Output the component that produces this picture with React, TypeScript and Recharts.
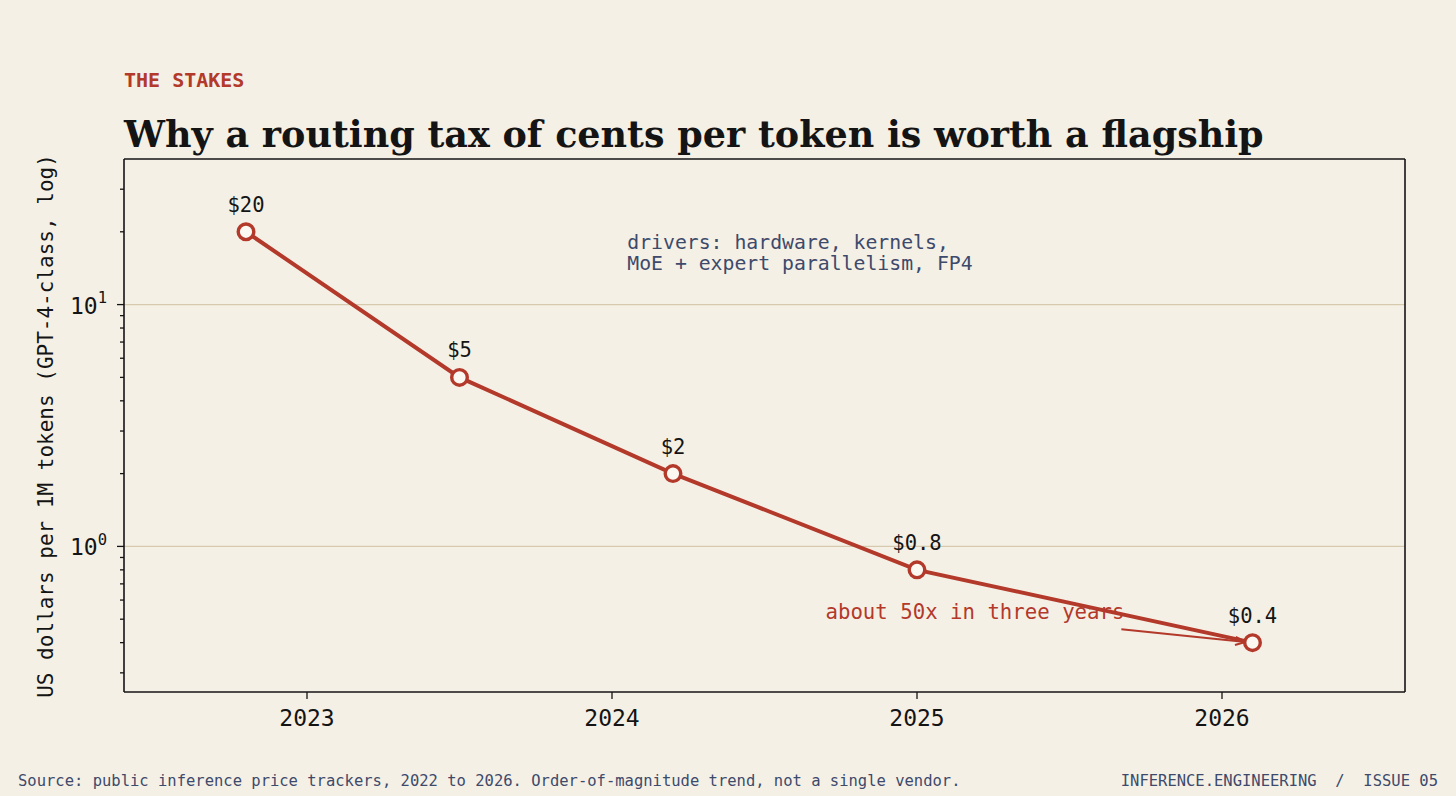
import React from 'react';
import { LineChart, Line, XAxis, YAxis, ReferenceLine, ReferenceDot } from 'recharts';

// Price of GPT-4-class inference, US dollars per 1M tokens
const years = [2022.8, 2023.5, 2024.2, 2025.0, 2026.1];
const prices = [20, 5, 2, 0.8, 0.4];

const xTicks = [2023, 2024, 2025, 2026];
const yMajorTicks = [1, 10];
const yMinorTicks = [0.3, 0.4, 0.5, 0.6, 0.7, 0.8, 0.9, 2, 3, 4, 5, 6, 7, 8, 9, 20, 30];
const xDomain = [2022.4, 2026.6];
const yDomain = [0.25, 40];

const driversNote = ['drivers: hardware, kernels,', 'MoE + expert parallelism, FP4'];
const driversAt = { x: 2024.05, y: 17 };
const dropNote = 'about 50x in three years';
const dropAt = { x: 2024.7, y: 0.5 };
const arrowFrom = { x: 2025.67, y: 0.454 };

const data = years.map((year, i) => ({ year, price: prices[i] }));
const allYTicks = [...yMinorTicks, ...yMajorTicks].sort((a, b) => a - b);

const BG = '#f5f0e6';
const RED = '#b3392a';
const INK = '#141414';
const SLATE = '#3d4a6b';
const GRID = '#d6c9ae';
const MONO = '"DejaVu Sans Mono", monospace';
const SERIF = '"DejaVu Serif", serif';

const YTick = (props: any) => {
  const { x, y, payload } = props;
  const major = yMajorTicks.includes(payload.value);
  const len = major ? 7 : 4;
  return (
    <g>
      <line x1={x - len} x2={x} y1={y} y2={y} stroke={INK} strokeWidth={1.3} />
      {major && (
        <text x={x - 17} y={y + 9} textAnchor="end" fontFamily={MONO} fontSize={23} fill={INK}>
          10
          <tspan dy={-10.5} fontSize={15.5}>
            {Math.round(Math.log10(payload.value))}
          </tspan>
        </text>
      )}
    </g>
  );
};

const PriceDot = (props: any) => {
  const { cx, cy, payload, index } = props;
  return (
    <g key={`dot-${index}`}>
      <circle cx={cx} cy={cy} r={7.8} fill="#fbf8f2" stroke={RED} strokeWidth={3.4} />
      <text x={cx} y={cy - 20} textAnchor="middle" fontFamily={MONO} fontSize={20.5} fill={INK}>
        {`$${payload.price}`}
      </text>
    </g>
  );
};

const ArrowShape = (props: any) => {
  const { x1, y1, x2, y2 } = props;
  const dx = x2 - x1;
  const dy = y2 - y1;
  const len = Math.sqrt(dx * dx + dy * dy);
  const ux = dx / len;
  const uy = dy / len;
  // stop short of the marker
  const tx = x2 - ux * 7;
  const ty = y2 - uy * 7;
  const head = 11;
  const spread = 0.38;
  const ang = Math.atan2(uy, ux);
  const hx1 = tx - head * Math.cos(ang - spread);
  const hy1 = ty - head * Math.sin(ang - spread);
  const hx2 = tx - head * Math.cos(ang + spread);
  const hy2 = ty - head * Math.sin(ang + spread);
  return (
    <g>
      <line x1={x1} y1={y1} x2={tx} y2={ty} stroke={RED} strokeWidth={2} />
      <polyline
        points={`${hx1},${hy1} ${tx},${ty} ${hx2},${hy2}`}
        fill="none"
        stroke={RED}
        strokeWidth={2}
      />
    </g>
  );
};

const DriversText = (props: any) => {
  const { cx, cy } = props;
  return (
    <text x={cx} y={cy} fontFamily={MONO} fontSize={19.8} fill={SLATE}>
      {driversNote.map((line, i) => (
        <tspan key={i} x={cx} dy={i === 0 ? 0 : 21.5}>
          {line}
        </tspan>
      ))}
    </text>
  );
};

const DropText = (props: any) => {
  const { cx, cy } = props;
  return (
    <text x={cx} y={cy} fontFamily={MONO} fontSize={20.7} fill={RED}>
      {dropNote}
    </text>
  );
};

export default function App() {
  return (
    <div
      style={{
        position: 'absolute',
        left: 0,
        top: 0,
        width: 1456,
        height: 796,
        background: BG,
        overflow: 'hidden',
      }}
    >
      <svg
        width={1456}
        height={796}
        style={{ position: 'absolute', left: 0, top: 0, pointerEvents: 'none' }}
      >
        <text x={124} y={87} fontFamily={MONO} fontWeight="bold" fontSize={20} fill={RED}>
          THE STAKES
        </text>
        <text x={124} y={147} fontFamily={SERIF} fontWeight="bold" fontSize={36.5} fill={INK}>
          Why a routing tax of cents per token is worth a flagship
        </text>
        <text
          transform="translate(53,426) rotate(-90)"
          textAnchor="middle"
          fontFamily={MONO}
          fontSize={21}
          fill={INK}
        >
          US dollars per 1M tokens (GPT-4-class, log)
        </text>
        <text x={18} y={786} fontFamily={MONO} fontSize={15.5} fill={SLATE}>
          Source: public inference price trackers, 2022 to 2026. Order-of-magnitude trend, not a single vendor.
        </text>
        <text x={1438} y={786} textAnchor="end" fontFamily={MONO} fontSize={15.5} fill={SLATE} style={{ whiteSpace: 'pre' }}>
          {'INFERENCE.ENGINEERING  /  ISSUE 05'}
        </text>
      </svg>
      <div style={{ position: 'absolute', left: 0, top: 0 }}>
        <LineChart
          width={1456}
          height={796}
          data={data}
          margin={{ top: 159, right: 51, bottom: 0, left: 0 }}
        >
          <XAxis
            dataKey="year"
            type="number"
            domain={xDomain}
            ticks={xTicks}
            allowDataOverflow
            height={104}
            tickSize={7}
            tickMargin={11}
            axisLine={{ stroke: INK, strokeWidth: 1.6 }}
            tickLine={{ stroke: INK, strokeWidth: 1.3 }}
            tick={{ fontFamily: MONO, fontSize: 23, fill: INK }}
          />
          <YAxis
            type="number"
            scale="log"
            domain={yDomain}
            ticks={allYTicks}
            allowDataOverflow
            width={124}
            tickSize={0}
            tickMargin={0}
            interval={0}
            axisLine={{ stroke: INK, strokeWidth: 1.6 }}
            tickLine={false}
            tick={<YTick />}
          />
          {yMajorTicks.map((v) => (
            <ReferenceLine key={v} y={v} stroke={GRID} strokeWidth={1.3} ifOverflow="visible" />
          ))}
          <ReferenceLine y={yDomain[1]} stroke={INK} strokeWidth={1.6} ifOverflow="visible" />
          <ReferenceLine x={xDomain[1]} stroke={INK} strokeWidth={1.6} ifOverflow="visible" />
          <ReferenceDot
            x={driversAt.x}
            y={driversAt.y}
            r={0}
            ifOverflow="visible"
            shape={(p: any) => <DriversText {...p} />}
          />
          <ReferenceDot
            x={dropAt.x}
            y={dropAt.y}
            r={0}
            ifOverflow="visible"
            shape={(p: any) => <DropText {...p} />}
          />
          <ReferenceLine
            segment={[arrowFrom, { x: years[years.length - 1], y: prices[prices.length - 1] }]}
            ifOverflow="visible"
            shape={(p: any) => <ArrowShape {...p} />}
          />
          <Line
            dataKey="price"
            stroke={RED}
            strokeWidth={4}
            dot={(p: any) => <PriceDot {...p} />}
            activeDot={false}
            isAnimationActive={false}
          />
        </LineChart>
      </div>
    </div>
  );
}
